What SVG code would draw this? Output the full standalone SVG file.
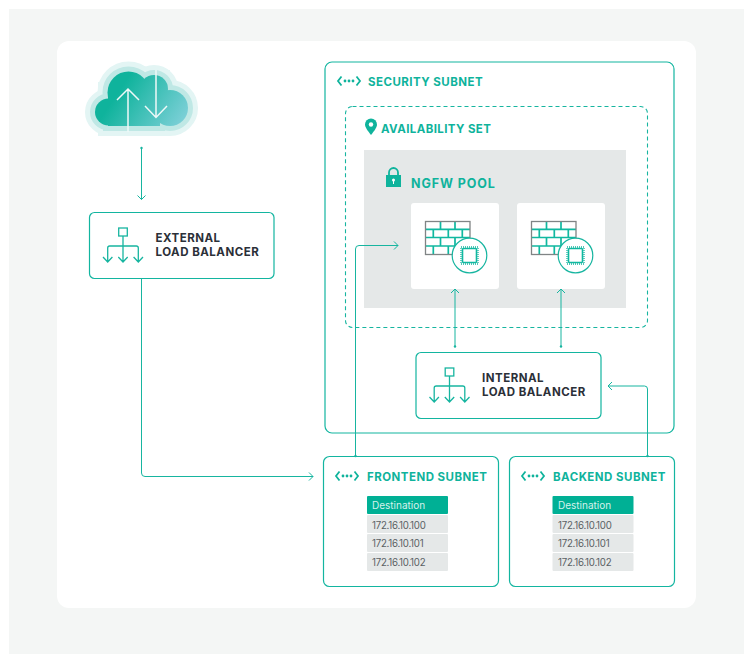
<svg xmlns="http://www.w3.org/2000/svg" width="744" height="654" viewBox="0 0 744 654">
<style>
text{font-family:Inter,"Liberation Sans",sans-serif}
.box{fill:#fff;stroke:#13b5a0;stroke-width:1.2}
.h{fill:#0fb39c;font-size:11.5px;font-weight:700;letter-spacing:.47px}
.d{fill:#2b3038;font-size:11.5px;font-weight:700;letter-spacing:.5px}
.ip{fill:#5a6164;font-size:9.7px;letter-spacing:-.25px}
.th{fill:#d5f2ec;font-size:10px}
.c{fill:none;stroke:#17b5a0;stroke-width:1}
.cell{fill:#e5e8e8}
.thb{fill:#00b095}
.dot{fill:#17b5a0}
</style>
<defs>
<linearGradient id="g" gradientUnits="userSpaceOnUse" x1="110" y1="80" x2="185" y2="130"><stop offset=".15" stop-color="#0fb39c"/><stop offset="1" stop-color="#85d2dc"/></linearGradient>
<marker id="a" markerWidth="10" markerHeight="10" refX="7" refY="4.500" orient="auto"><path d="M3 .5L7 4.500L3 8.500" fill="none" stroke="#17b5a0" stroke-width="1"/></marker>
<g id="cl"><circle cx="108.500" cy="112" r="13.500"/><circle cx="128.500" cy="92.500" r="21"/><circle cx="154" cy="89" r="14"/><circle cx="170" cy="108" r="18"/><path d="M108 92H160V126H108Z"/><path d="M140 80H160V95H140Z"/></g>
<g id="net"><path d="M4.500 -4.500L1 0L4.500 4.500M19.500 -4.500L23 0L19.500 4.500" fill="none" stroke="#0fb39c" stroke-width="1.800"/><circle cx="8" r="1.400" fill="#0fb39c"/><circle cx="12" r="1.400" fill="#0fb39c"/><circle cx="16" r="1.400" fill="#0fb39c"/></g>
<g id="lb"><rect x="-4.300" y="0" width="8.600" height="8" fill="none" stroke="#17b5a0" stroke-width="1.300"/><path d="M0 8V33.500M-15.300 33.500V20Q-15.300 18 -13.300 18H13.300Q15.300 18 15.300 20V33.500M-20 29L-15.300 34L-10.600 29M-4.700 29L0 34L4.700 29M10.600 29L15.300 34L20 29" fill="none" stroke="#17b5a0" stroke-width="1.300"/></g>
<g id="fw"><path d="M0 7.800H44.500M0 16H44.500M0 24.500H44.500M15 0V7.800M29.500 0V7.800M7.800 7.800V16M22.800 7.800V16M36.800 7.800V16M15 16V24.500M29.500 16V24.500M7.800 24.500V33M22.800 24.500V33M36.800 24.500V33" fill="none" stroke="#10b8a0" stroke-width="1.700"/><rect x="0" y="0" width="44.500" height="33" fill="none" stroke="#808485" stroke-width="1.300"/><circle cx="44" cy="34" r="17.300" fill="#fff" stroke="#17b5a0" stroke-width="1.200"/><rect x="35.500" y="25.500" width="17" height="17" fill="none" stroke="#17b5a0" stroke-width="1.300" stroke-dasharray="1 1"/><rect x="37" y="27" width="14" height="14" rx="1" fill="#fff" stroke="#10b8a0" stroke-width="1.600"/></g>
</defs>
<rect width="744" height="654" fill="#fff"/>
<rect x="9" y="9" width="735" height="645" fill="#f4f6f5"/>
<rect x="57" y="41" width="639" height="567" rx="12" fill="#fff"/>
<g id="cloud">
<use href="#cl" fill="#e3f5f4" stroke="#e3f5f4" stroke-width="20"/>
<use href="#cl" fill="#bfe8e5" stroke="#bfe8e5" stroke-width="10"/>
<use href="#cl" fill="url(#g)"/>
<path d="M128 132V89M117 100L128 89L139 100M156 70V117.500M145 106L156 117.500L167 106" fill="none" stroke="#eef9f8" stroke-width="1.500"/>
</g>
<rect x="325" y="62" width="349" height="371" rx="7" class="box"/>
<rect x="345.500" y="106.500" width="302" height="221" rx="7" fill="#fff" stroke="#17b5a0" stroke-width="1.100" stroke-dasharray="4 3"/>
<rect x="364" y="150" width="262" height="158" fill="#e5e8e8"/>
<g id="security-subnet"><use href="#net" x="337" y="81"/><text class="h" x="368" y="86">SECURITY SUBNET</text></g>
<g id="availability-set"><path d="M371 135C367 130 365 127 365 124.500A6 6 0 0 1 377 124.500C377 127 375 130 371 135Z" fill="#0fb39c"/><circle cx="371" cy="124.500" r="2.200" fill="#fff"/><text class="h" x="381" y="133" style="letter-spacing:.4px">AVAILABILITY SET</text></g>
<g id="ngfw-pool"><path d="M389 175V172.500A4.500 4.500 0 0 1 398 172.500V175" fill="none" stroke="#0fb39c" stroke-width="1.800"/><rect x="386" y="175" width="15" height="12" fill="#0fb39c"/><circle cx="393.500" cy="180" r="1.500" fill="#fff"/><rect x="393" y="180" width="1" height="4" fill="#fff"/><text x="411" y="188" fill="#0fb39c" font-size="12.500" font-weight="700" letter-spacing=".9">NGFW POOL</text></g>
<g id="ngfw-1"><rect x="411" y="203" width="88" height="86" rx="3" fill="#fff"/><use href="#fw" x="425.500" y="221.500"/></g>
<g id="ngfw-2"><rect x="517" y="203" width="88" height="86" rx="3" fill="#fff"/><use href="#fw" x="531.500" y="221.500"/></g>
<g id="external-lb"><rect x="89.500" y="212.500" width="184.500" height="66" rx="5" class="box"/><use href="#lb" x="123" y="228"/><text class="d" x="155.500" y="242">EXTERNAL</text><text class="d" x="155.500" y="256">LOAD BALANCER</text></g>
<g id="internal-lb"><rect x="416" y="352.500" width="185" height="66" rx="5" class="box"/><use href="#lb" x="449.500" y="368"/><text class="d" x="482" y="382">INTERNAL</text><text class="d" x="482" y="396">LOAD BALANCER</text></g>
<g id="frontend-subnet"><rect x="323.500" y="456.500" width="175" height="130" rx="6" class="box"/><use href="#net" x="335" y="476"/><text class="h" x="367" y="481">FRONTEND SUBNET</text>
<rect x="367" y="496" width="81" height="18" rx="1" class="thb"/><text class="th" x="372" y="509">Destination</text>
<rect x="367" y="515" width="81" height="18" rx="1" class="cell"/><text class="ip" x="372" y="528.500">172.16.10.100</text>
<rect x="367" y="534" width="81" height="18" rx="1" class="cell"/><text class="ip" x="372" y="547">172.16.10.101</text>
<rect x="367" y="553" width="81" height="18" rx="1" class="cell"/><text class="ip" x="372" y="565.500">172.16.10.102</text></g>
<g id="backend-subnet"><rect x="509.500" y="456.500" width="165" height="130" rx="6" class="box"/><use href="#net" x="521" y="476"/><text class="h" x="553" y="481">BACKEND SUBNET</text>
<rect x="552.500" y="496" width="81" height="18" rx="1" class="thb"/><text class="th" x="558" y="509">Destination</text>
<rect x="552.500" y="515" width="81" height="18" rx="1" class="cell"/><text class="ip" x="558" y="528.500">172.16.10.100</text>
<rect x="552.500" y="534" width="81" height="18" rx="1" class="cell"/><text class="ip" x="558" y="547">172.16.10.101</text>
<rect x="552.500" y="553" width="81" height="18" rx="1" class="cell"/><text class="ip" x="558" y="565.500">172.16.10.102</text></g>
<g id="connectors">
<path class="c" d="M141.500 148V199.500" marker-end="url(#a)"/><circle class="dot" cx="141.500" cy="148" r="1.200"/>
<path class="c" d="M141.500 278V473Q141.500 476.500 145 476.500H313" marker-end="url(#a)"/>
<path class="c" d="M355.500 456V249Q355.500 245.500 359 245.500H398" marker-end="url(#a)"/><circle class="dot" cx="355.500" cy="456" r="1.200"/>
<path class="c" d="M455 346.500V289" marker-end="url(#a)"/><circle class="dot" cx="455" cy="346.500" r="1.200"/>
<path class="c" d="M561 346.500V289" marker-end="url(#a)"/><circle class="dot" cx="561" cy="346.500" r="1.200"/>
<path class="c" d="M647.500 456V389Q647.500 386 644.500 386H608" marker-end="url(#a)"/><circle class="dot" cx="647.500" cy="456" r="1.200"/>
</g>
</svg>
